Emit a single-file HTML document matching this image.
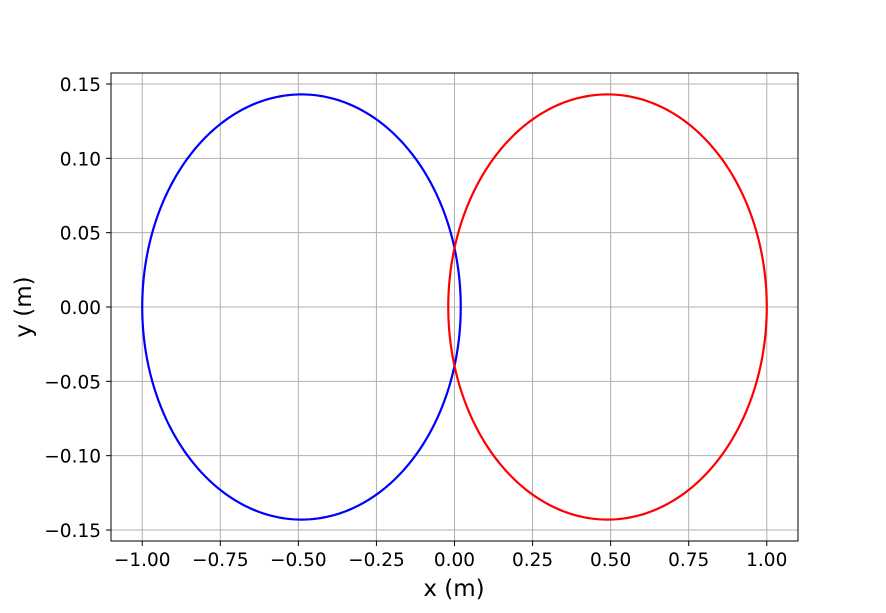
<!DOCTYPE html>
<html><head><meta charset="utf-8"><style>
body{margin:0;background:#fff;}
svg text{font-family:"DejaVu Sans","Liberation Sans",sans-serif;fill:#000;}
</style></head><body>
<svg id="chart" width="886" height="608" xmlns="http://www.w3.org/2000/svg">
<g id="grid"></g>
<g id="series"></g>
<rect x="111" y="73" width="687" height="468" fill="none" stroke="#000" stroke-width="1"/>
<g id="ticks"></g>
<text x="454" y="596" font-size="23" text-anchor="middle">x (m)</text>
<text x="31" y="307" font-size="23" text-anchor="middle" transform="rotate(-90 31 307)">y (m)</text>
</svg>
<script>
const xTicks=[-1.0,-0.75,-0.5,-0.25,0,0.25,0.5,0.75,1.0];
const xTickLabels=["\u22121.00","\u22120.75","\u22120.50","\u22120.25","0.00","0.25","0.50","0.75","1.00"];
const yTicks=[0.15,0.10,0.05,0,-0.05,-0.10,-0.15];
const yTickLabels=["0.15","0.10","0.05","0.00","\u22120.05","\u22120.10","\u22120.15"];
const seriesNames=["body-1-orbit","body-2-orbit"];
const seriesColors=["#0000ff","#ff0000"];
const centerX=[-0.49,0.49];
const semiAxisX=[0.51,0.51];
const semiAxisY=[0.143,0.143];
const X0=111,X1=798,Y0=73,Y1=541,xmin=-1.1,xmax=1.1;
const ymin=-0.1574,ymax=0.1574;
function sx(v){return X0+(v-xmin)/(xmax-xmin)*(X1-X0);}
function sy(v){return Y1-(v-ymin)/(ymax-ymin)*(Y1-Y0);}
const NS="http://www.w3.org/2000/svg";
function mk(t,a,p){const e=document.createElementNS(NS,t);for(const k in a)e.setAttribute(k,a[k]);p.appendChild(e);return e;}
const grid=document.getElementById('grid'),ticks=document.getElementById('ticks'),ser=document.getElementById('series');
xTicks.forEach((v,i)=>{const x=sx(v);
 const g=mk('line',{x1:x,x2:x,y1:Y0,y2:Y1,stroke:'#b0b0b0','stroke-width':1},grid);
 
 
 const t=mk('line',{x1:x,x2:x,y1:Y1,y2:Y1+5,stroke:'#000','stroke-width':1},ticks);
 
 
 const l=mk('text',{x:x,y:Y1+25,'font-size':18.5,'text-anchor':'middle'},ticks);l.textContent=xTickLabels[i];
 
 
});
yTicks.forEach((v,i)=>{const y=sy(v);
 const g=mk('line',{x1:X0,x2:X1,y1:y,y2:y,stroke:'#b0b0b0','stroke-width':1},grid);
 
 
 const t=mk('line',{x1:X0-5,x2:X0,y1:y,y2:y,stroke:'#000','stroke-width':1},ticks);
 
 
 const l=mk('text',{x:X0-10,y:y+7,'font-size':18.5,'text-anchor':'end'},ticks);l.textContent=yTickLabels[i];
 
 
});
seriesNames.forEach((n,i)=>{
 let d='';for(let k=0;k<=360;k++){const a=k*Math.PI/180;
  const x=sx(centerX[i]+semiAxisX[i]*Math.cos(a)),y=sy(semiAxisY[i]*Math.sin(a));
  d+=(k?'L':'M')+x.toFixed(2)+' '+y.toFixed(2);}
 const p=mk('path',{d:d,fill:'none',stroke:seriesColors[i],'stroke-width':2.2},ser);
 
 
});
</script>
</body></html>
